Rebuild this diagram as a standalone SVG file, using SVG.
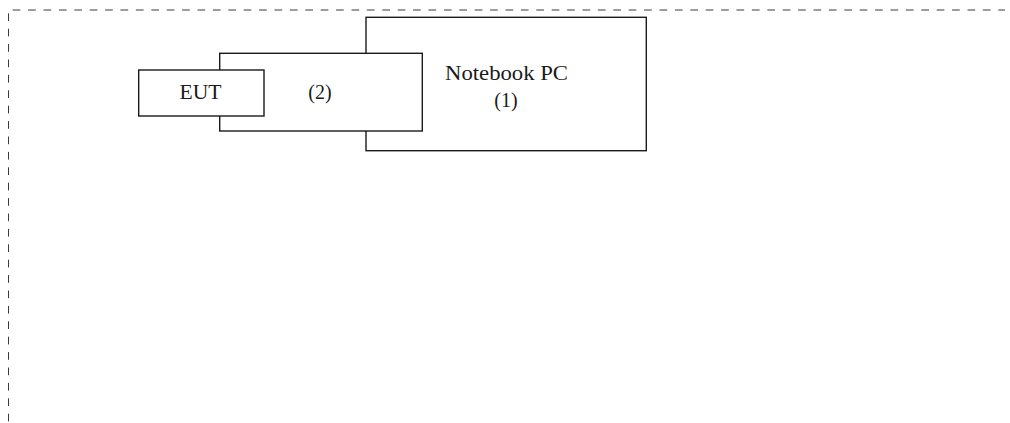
<svg xmlns="http://www.w3.org/2000/svg" width="1010" height="423" viewBox="0 0 1010 423">
<style>
.box{fill:#fff;stroke:#1a1a1a;stroke-width:1.4}
.lbl{font-family:"Liberation Serif","Times New Roman",serif;font-size:20px;fill:#1a1a1a;text-anchor:middle}
.border{fill:none;stroke:#3a3a3a;stroke-width:1;stroke-dasharray:7.7 7.7}
</style>
<rect width="1010" height="423" fill="#fff"/>
<g id="border">
<line class="border" x1="12.7" y1="10" x2="1005" y2="10"/>
<line class="border" x1="8.5" y1="13.3" x2="8.5" y2="423"/>
</g>
<g id="connectors"></g>
<g id="notebook">
<rect class="box" x="366" y="17.3" width="280.3" height="133.4"/>
<text class="lbl" x="506.5" y="80.3" textLength="123" lengthAdjust="spacingAndGlyphs">Notebook PC</text>
<text class="lbl" x="506" y="107">(1)</text>
</g>
<g id="adapter">
<rect class="box" x="219.7" y="53.3" width="202.6" height="77.7"/>
<text class="lbl" x="320" y="99.3">(2)</text>
</g>
<g id="eut">
<rect class="box" x="138.7" y="70" width="125.3" height="46"/>
<text class="lbl" x="200.5" y="99.3" textLength="42" lengthAdjust="spacingAndGlyphs">EUT</text>
</g>
</svg>
